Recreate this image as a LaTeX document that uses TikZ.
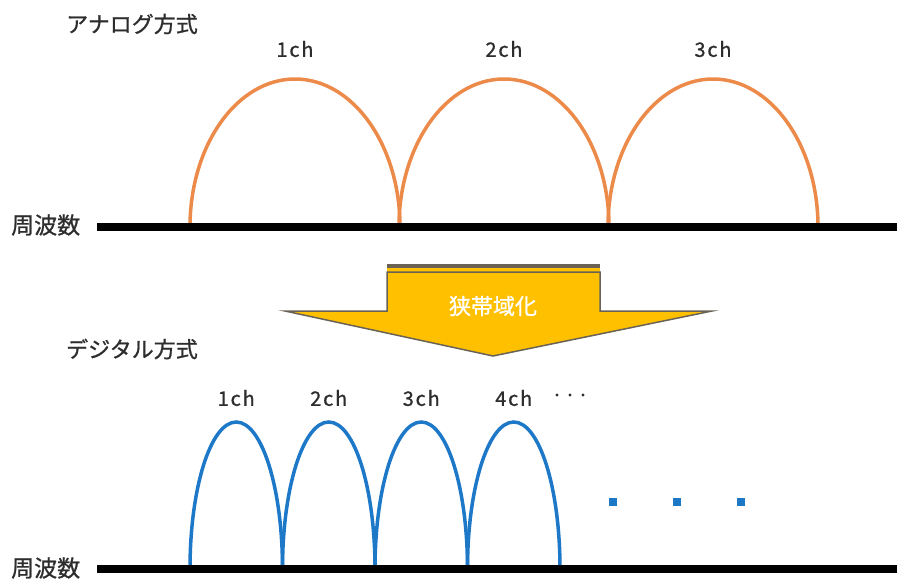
\documentclass[tikz,border=0pt]{standalone}
\usepackage{fontspec}
\setmainfont{Noto Sans CJK JP}[FakeBold=0.9]
\definecolor{bogen}{RGB}{236,138,74}
\definecolor{welle}{RGB}{30,120,200}
\definecolor{gold}{RGB}{255,192,0}
\definecolor{schrift}{RGB}{45,45,45}
\definecolor{rand}{RGB}{105,98,85}

\begin{document}
\begin{tikzpicture}[x=1pt, y=-1pt,
	achse/.style={line width=8pt, black},
	analogbogen/.style={line width=3.5pt, bogen},
	digitalbogen/.style={line width=3.5pt, welle},
	titel/.style={anchor=west, inner sep=0pt, text=schrift, font=\fontsize{22}{22}\selectfont},
	kanal/.style={inner sep=0pt, text=schrift, font=\fontsize{20}{20}\selectfont\addfontfeature{LetterSpace=9}}]
	\useasboundingbox (0,0) rectangle (897,581);

	\node[titel] (analog) at (66,24) {アナログ方式};
	\foreach \x/\n in {190/1, 399/2, 608/3} {
		\draw[analogbogen] (\x,227) arc[start angle=180, end angle=0, x radius=105pt, y radius=148pt];
		\node[kanal] (analog\n) at (\x+105,49) {\n ch};
	}
	\draw[achse] (97,227) -- (897,227);%Achse oben
	\node[titel, font=\fontsize{23}{23}\selectfont] (freqoben) at (11,225) {周波数};

	%Pfeil
	\fill[rand] (387,264) rectangle (600,268);
	\fill[gold] (387,268) rectangle (600,271.5);
	\draw[rand, fill=gold, line width=1.5pt] (387,272) -- (600,272) -- (600,311) -- (712,311) -- (493,356) -- (285,311) -- (387,311) -- cycle;
	\node[inner sep=0pt, text=white, font=\fontsize{22}{22}\selectfont] (schmal) at (493,306) {狭帯域化};

	\node[titel] (digital) at (66,349) {デジタル方式};
	\foreach \x/\n in {190/1, 282.5/2, 375/3, 467.5/4} {
		\draw[digitalbogen] (\x,569) arc[start angle=180, end angle=0, x radius=46.25pt, y radius=147pt];
		\node[kanal] (digital\n) at (\x+46.25,398) {\n ch};
	}
	\foreach \x in {557, 570, 583}
		\fill[schrift] (\x,395) circle (1.7pt);%weitere Kanaele
	\foreach \x in {613, 677, 741}
		\fill[welle] (\x-4,498) rectangle (\x+4,506);%Punkte
	\draw[achse] (97,569) -- (897,569);%Achse unten
	\node[titel, font=\fontsize{23}{23}\selectfont] (frequnten) at (11,568) {周波数};
\end{tikzpicture}
\end{document}
